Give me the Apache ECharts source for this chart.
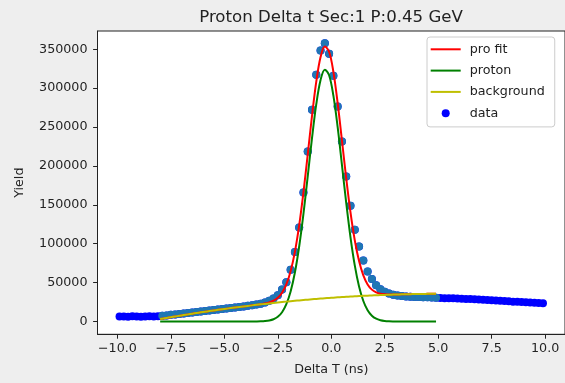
<!DOCTYPE html>
<html><head><meta charset="utf-8">
<script src="https://cdn.jsdelivr.net/npm/echarts@6/dist/echarts.min.js"></script>
<style>html,body{margin:0;padding:0;background:#eeeeee;} #c{width:565px;height:383px;}</style>
</head><body><div id="c"></div>
<script>
const titleText = 'Proton Delta t Sec:1 P:0.45 GeV';
const xName = 'Delta T (ns)';
const yName = 'Yield';
const xTicks = [-10, -7.5, -5, -2.5, 0, 2.5, 5, 7.5, 10];
const yTicks = [0, 50000, 100000, 150000, 200000, 250000, 300000, 350000];
const legendNames = ['pro fit', 'proton', 'background', 'data'];
const fitRange = [-8, 5];

const dataX = [
  -9.9,-9.7,-9.5,-9.3,-9.1,-8.9,-8.7,-8.5,-8.3,-8.1,
  -7.9,-7.7,-7.5,-7.3,-7.1,-6.9,-6.7,-6.5,-6.3,-6.1,
  -5.9,-5.7,-5.5,-5.3,-5.1,-4.9,-4.7,-4.5,-4.3,-4.1,
  -3.9,-3.7,-3.5,-3.3,-3.1,-2.9,-2.7,-2.5,-2.3,-2.1,
  -1.9,-1.7,-1.5,-1.3,-1.1,-0.9,-0.7,-0.5,-0.3,-0.1,
  0.1,0.3,0.5,0.7,0.9,1.1,1.3,1.5,1.7,1.9,
  2.1,2.3,2.5,2.7,2.9,3.1,3.3,3.5,3.7,3.9,
  4.1,4.3,4.5,4.7,4.9,5.1,5.3,5.5,5.7,5.9,
  6.1,6.3,6.5,6.7,6.9,7.1,7.3,7.5,7.7,7.9,
  8.1,8.3,8.5,8.7,8.9,9.1,9.3,9.5,9.7,9.9
];
const dataY = [
  6300,6500,6200,6600,6400,6200,6500,6700,6300,6600,
  7200,7600,8500,8900,9700,10300,10800,11500,12100,12800,
  13300,14100,14600,15400,15900,16700,17300,18000,18700,19300,
  20200,20900,21800,22900,24300,26500,29600,33800,41000,50500,
  66400,89200,120800,165800,218500,272100,317100,348300,357800,344100,
  315800,276300,231300,186300,148700,117800,96400,78400,64300,54500,
  46500,41500,38200,36000,34500,33300,32600,32200,31900,31600,
  31400,31200,31000,30800,30600,30200,30000,29800,29900,29500,
  29300,29000,28800,28600,28200,28000,27600,27300,27000,26800,
  26200,25900,25500,25200,24900,24600,24300,24000,23800,23500
];

const lineX = [
  -8.0,-7.9,-7.7,-7.5,-7.3,-7.1,-6.9,-6.7,-6.5,-6.3,-6.1,-5.9,-5.7,-5.5,-5.3,-5.1,
  -4.9,-4.7,-4.5,-4.3,-4.1,-3.9,-3.7,-3.5,-3.3,-3.1,-2.9,-2.7,-2.5,-2.3,-2.1,
  -1.9,-1.7,-1.5,-1.3,-1.1,-0.9,-0.7,-0.5,-0.3,-0.1,0.1,0.3,0.5,0.7,0.9,
  1.1,1.3,1.5,1.7,1.9,2.1,2.3,2.5,2.7,2.9,3.1,3.3,3.5,3.7,3.9,4.1,4.3,4.5,4.7,4.9
];
const background = [
  3100,3586,4547,5494,6425,7343,8245,9134,10006,10866,11709,12538,13354,14153,14939,15710,
  16467,17208,17935,18647,19345,20028,20696,21350,21989,22614,23224,23820,24400,24966,25517,
  26055,26576,27084,27577,28055,28519,28967,29402,29822,30227,30617,30994,31354,31701,32033,
  32351,32653,32940,33214,33473,33717,33946,34162,34362,34548,34718,34875,35016,35144,35256,35353,35437,35505,35560,35599
];
const proton = [
  0,0,0,0,0,0,0,0,0,0,0,0,0,0,0,0,
  0,0,0,0,0,0,26,76,206,528,1270,2860,6030,11930,22150,
  38550,62920,96420,138480,186560,235740,279390,310550,323770,316580,290340,249740,201460,152440,108180,
  72030,44970,26340,14450,7450,3600,1630,690,275,103,36,12,0,0,0,0,0,0,0,0
];
const proFit = [
  3100,3586,4547,5494,6425,7343,8245,9134,10006,10866,11709,12538,13354,14153,14939,15710,
  16467,17208,17935,18647,19345,20028,20722,21426,22195,23142,24494,26680,30430,36896,47667,
  64605,89496,123504,166057,214615,264259,308357,339952,353592,346807,320957,280734,232814,184141,140213,
  104381,77623,59280,47664,40923,37317,35576,34852,34637,34651,34754,34887,35016,35144,35256,35353,35437,35505,35560,35599
];

const font = 'DejaVu Sans';
const ink = '#222222';
const pairs = (xs, ys) => xs.map((x, i) => [x, ys[i]]);
const allPts = pairs(dataX, dataY);
const fitPts = allPts.filter(p => p[0] >= fitRange[0] && p[0] <= fitRange[1]);
const fmtX = v => (v < 0 ? '\u2212' : '') + Math.abs(v).toFixed(1);
const lineIcon = 'path://M0,0L30,0L30,2L0,2Z';

const chart = echarts.init(document.getElementById('c'));
const axisCommon = {
  axisLine: { show: true, onZero: false, lineStyle: { color: ink, width: 1 } },
  splitLine: { show: false },
  nameTextStyle: { fontFamily: font, fontSize: 12.7, color: ink },
};
chart.setOption({
  backgroundColor: '#eeeeee',
  animation: false,
  textStyle: { fontFamily: font },
  title: {
    text: titleText, left: 331, top: 9, padding: 0, textAlign: 'center',
    textStyle: { fontFamily: font, fontSize: 16.6, fontWeight: 'normal', color: ink }
  },
  legend: {
    data: [
      { name: legendNames[0], icon: lineIcon },
      { name: legendNames[1], icon: lineIcon },
      { name: legendNames[2], icon: lineIcon },
      { name: legendNames[3], icon: 'circle' }
    ],
    orient: 'vertical', left: 427, top: 37,
    padding: [5.3, 10, 6.7, 3.7],
    itemWidth: 30, itemHeight: 8, itemGap: 7.3,
    textStyle: { fontFamily: font, fontSize: 12.7, color: ink, lineHeight: 14, padding: [0, 0, 0, 4] },
    backgroundColor: 'rgba(255,255,255,0.8)', borderColor: '#cccccc', borderWidth: 1, borderRadius: 3
  },
  grid: {
    left: 97.5, right: -3, top: 31, bottom: 48.7,
    show: true, backgroundColor: '#ffffff', borderColor: ink, borderWidth: 1
  },
  xAxis: Object.assign({}, axisCommon, {
    type: 'value', min: -10.93, max: 10.93,
    axisTick: { show: true, length: 4.4, customValues: xTicks, lineStyle: { color: ink } },
    axisLabel: { customValues: xTicks, formatter: fmtX, fontFamily: font, fontSize: 12.7, color: ink, margin: 8 },
    name: xName, nameLocation: 'middle', nameGap: 29
  }),
  yAxis: Object.assign({}, axisCommon, {
    type: 'value', min: -16500, max: 373500,
    axisTick: { show: true, length: 4.4, customValues: yTicks, lineStyle: { color: ink } },
    axisLabel: { customValues: yTicks, formatter: v => String(v), fontFamily: font, fontSize: 12.7, color: ink, margin: 10 },
    name: yName, nameLocation: 'middle', nameGap: 71, nameRotate: 90
  }),
  series: [
    { name: 'data', type: 'scatter', data: allPts, symbol: 'circle', symbolSize: 8,
      itemStyle: { color: '#0000ff', opacity: 1 }, z: 2 },
    { name: 'fit range data', type: 'scatter', data: fitPts, symbol: 'circle', symbolSize: 8,
      itemStyle: { color: '#1f77b4', opacity: 1 }, z: 3 },
    { name: 'pro fit', type: 'line', data: pairs(lineX, proFit), symbol: 'none', smooth: 0.35,
      lineStyle: { color: '#ff0000', width: 2 }, itemStyle: { color: '#ff0000' }, z: 4 },
    { name: 'proton', type: 'line', data: pairs(lineX, proton), symbol: 'none', smooth: 0.35,
      lineStyle: { color: '#008000', width: 2 }, itemStyle: { color: '#008000' }, z: 5 },
    { name: 'background', type: 'line', data: pairs(lineX, background), symbol: 'none', smooth: 0.35,
      lineStyle: { color: '#bfbf00', width: 2 }, itemStyle: { color: '#bfbf00' }, z: 6 }
  ]
});
</script>
</body></html>
